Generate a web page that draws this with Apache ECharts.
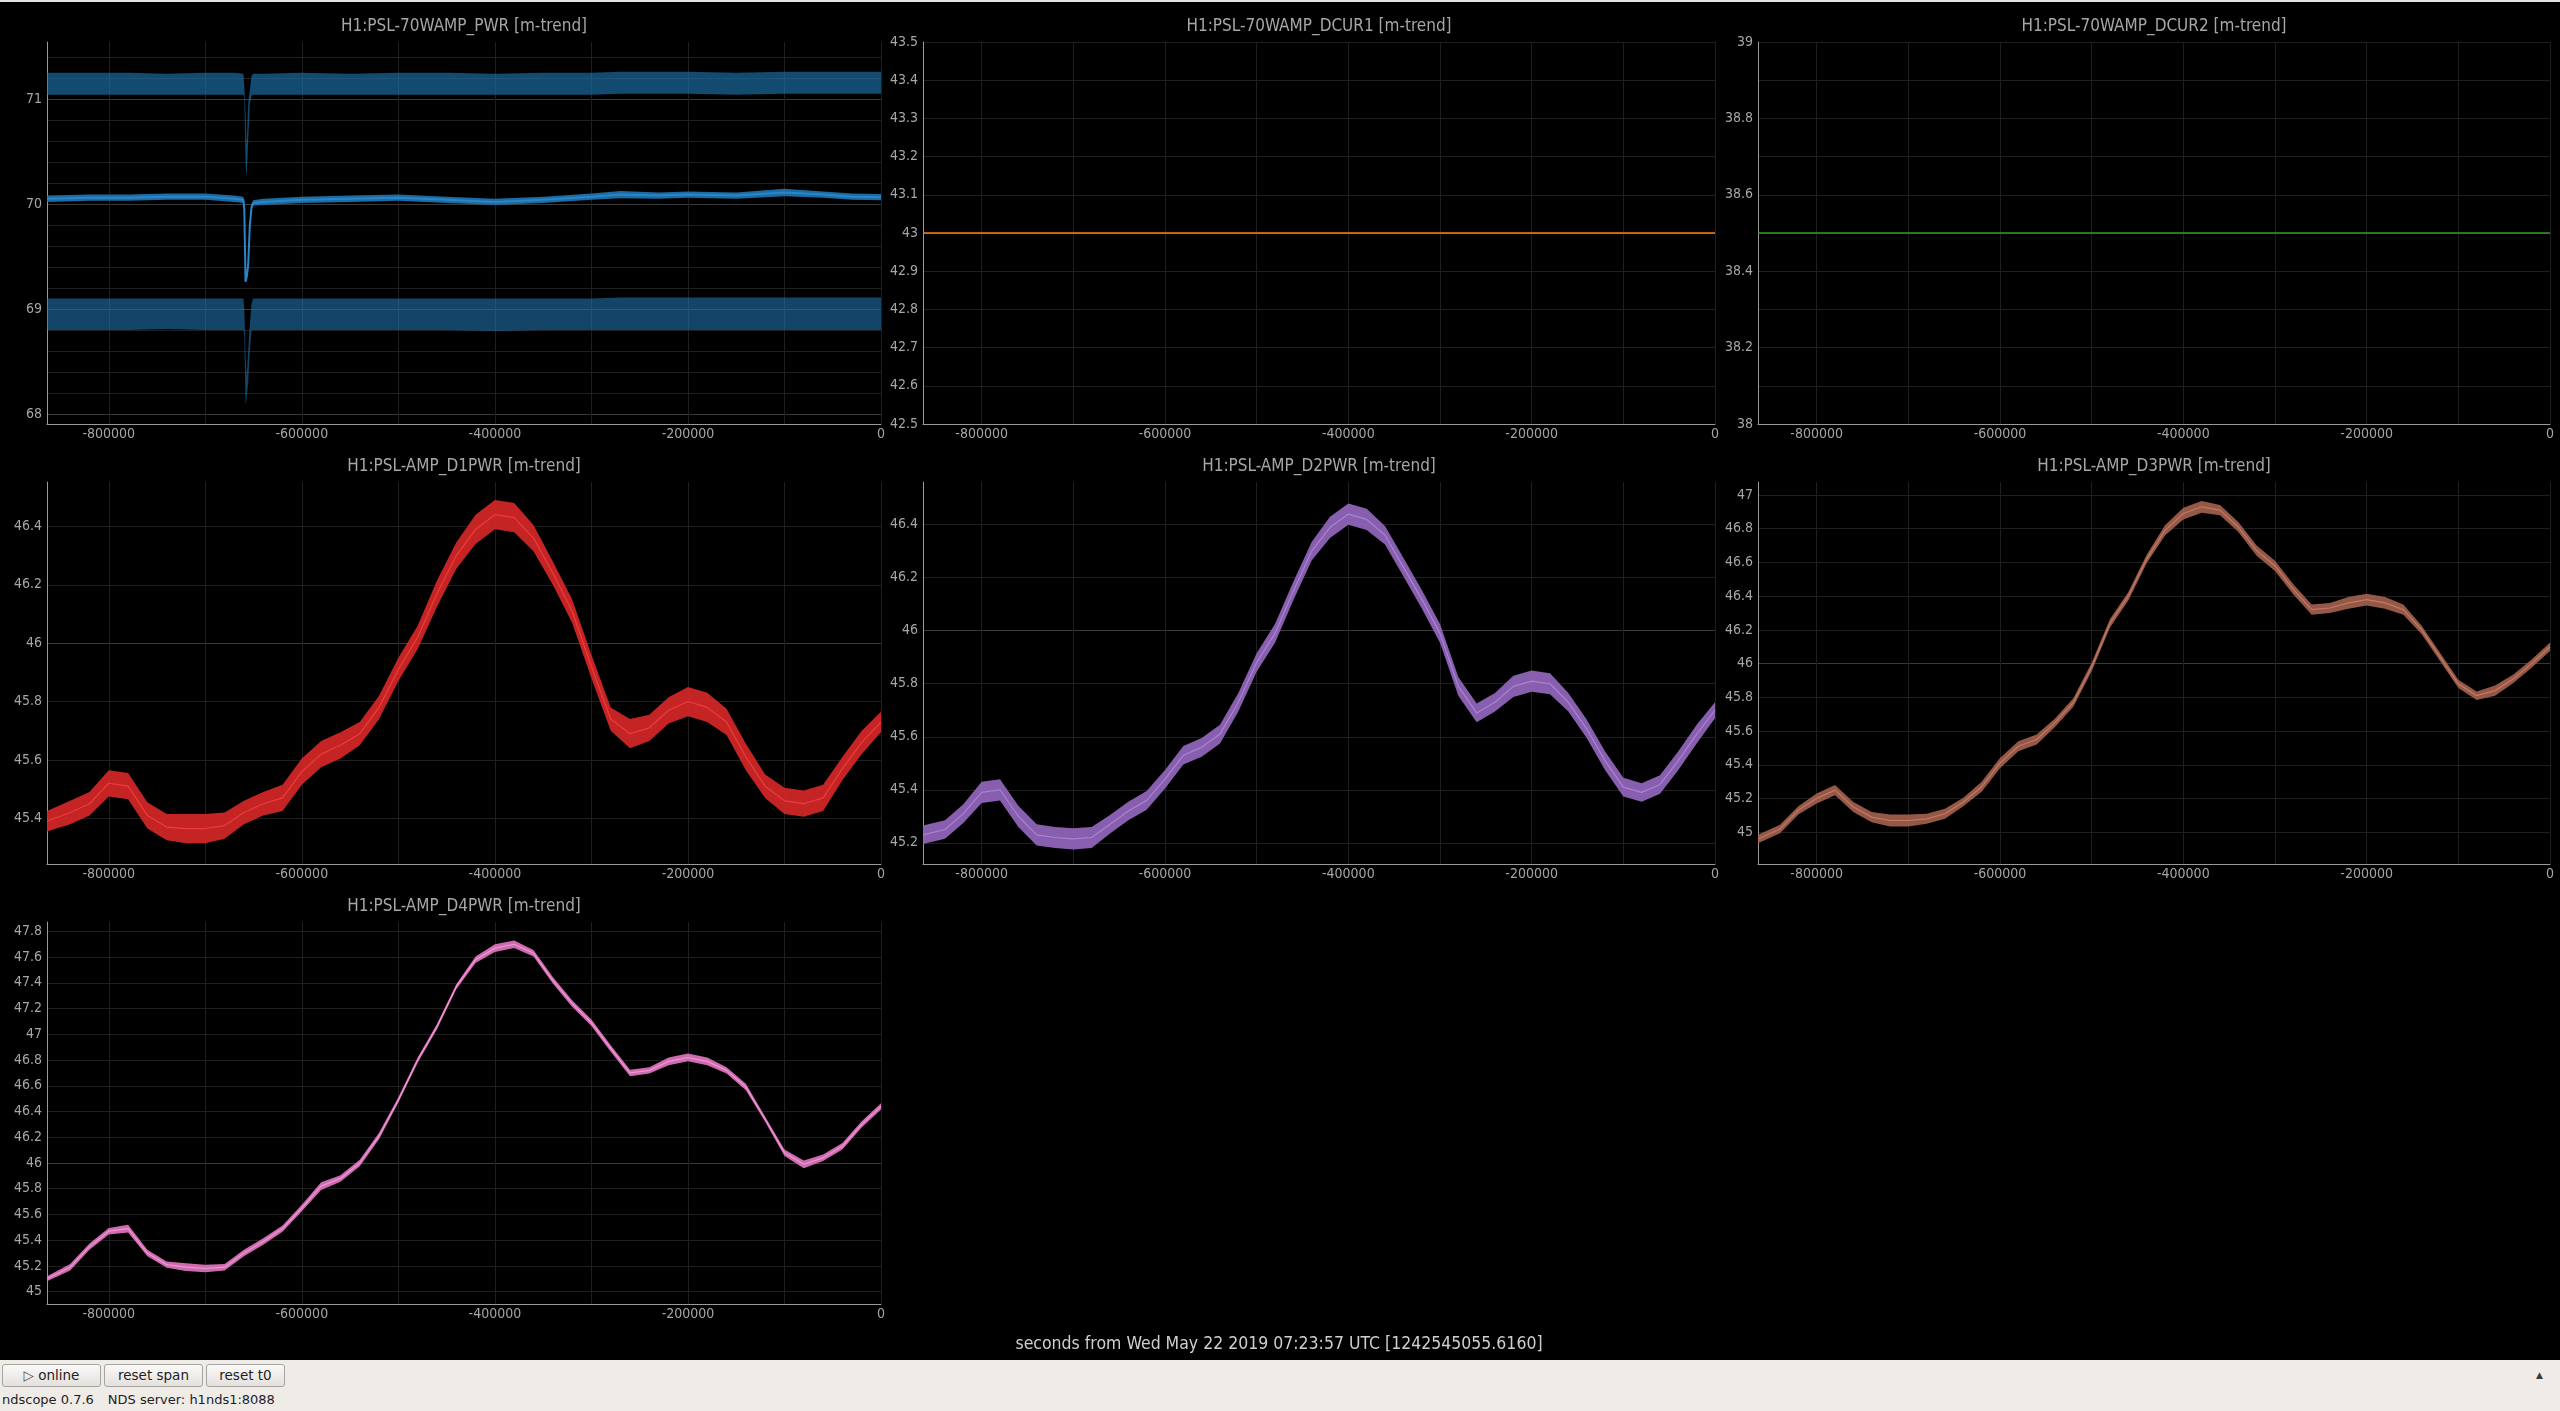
<!DOCTYPE html>
<html>
<head>
<meta charset="utf-8">
<script src="https://cdn.jsdelivr.net/npm/echarts@6.0.0/dist/echarts.min.js"></script>
<style>
html,body{margin:0;padding:0;background:#000;width:2560px;height:1411px;overflow:hidden;}
#chart{position:absolute;left:0;top:0;width:2560px;height:1360px;}
#topline{position:absolute;left:0;top:0;width:2560px;height:2px;background:#e4e4e4;z-index:5;}
#bar{position:absolute;left:0;top:1360px;width:2560px;height:51px;background:#efebe7;font-family:"DejaVu Sans",sans-serif;color:#1e1e1e;}
.btn{position:absolute;top:4px;height:23px;border:1px solid #a8a4a0;border-radius:3px;background:linear-gradient(#fbfaf9,#e3e0dd);font-size:13.5px;line-height:21px;text-align:center;box-sizing:border-box;}
#status{position:absolute;left:2px;top:32px;font-size:13px;white-space:nowrap;}
#arrow{position:absolute;left:2536px;top:10px;font-size:9px;color:#3a3a3a;}
</style>
</head>
<body>
<div id="topline"></div>
<div id="chart"></div>
<div id="bar">
  <div class="btn" style="left:2px;width:99px;"><span style="color:#555">&#9655;</span> online</div>
  <div class="btn" style="left:104px;width:99px;">reset span</div>
  <div class="btn" style="left:206px;width:79px;">reset t0</div>
  <div id="status">ndscope 0.7.6<span style="margin-left:14px">NDS server: h1nds1:8088</span></div>
  <div id="arrow">&#9650;</div>
</div>
<script>
// ---------------- data ----------------
const xLabelValues = [-800000, -600000, -400000, -200000, 0];
const xGridValues = [-800000, -700000, -600000, -500000, -400000, -300000, -200000, -100000, 0];

// H1:PSL-70WAMP_PWR  (min / mean / max minute trends)
const p1X = [-864000, -820000, -780000, -740000, -700000, -670000, -660500, -659600, -658300, -657200, -655600, -653900, -652100, -650500, -640000, -600000, -550000, -500000, -450000, -400000, -350000, -300000, -270000, -230000, -200000, -150000, -100000, -60000, -30000, 0];
const p1MaxHi = [71.25, 71.25, 71.25, 71.24, 71.25, 71.25, 71.24, 71.12, 70.85, 70.55, 70.95, 71.08, 71.22, 71.24, 71.24, 71.25, 71.24, 71.25, 71.25, 71.24, 71.25, 71.25, 71.26, 71.26, 71.26, 71.25, 71.26, 71.26, 71.26, 71.26];
const p1MaxLo = [71.04, 71.04, 71.04, 71.04, 71.04, 71.04, 71.04, 71.02, 70.40, 70.25, 70.60, 70.95, 71.03, 71.04, 71.04, 71.04, 71.04, 71.04, 71.04, 71.04, 71.04, 71.04, 71.05, 71.05, 71.05, 71.04, 71.05, 71.05, 71.05, 71.05];
const p1Mean = [70.05, 70.06, 70.06, 70.07, 70.07, 70.05, 70.04, 69.95, 69.26, 69.30, 69.42, 69.79, 69.97, 70.01, 70.02, 70.04, 70.05, 70.06, 70.04, 70.02, 70.04, 70.07, 70.09, 70.08, 70.09, 70.08, 70.11, 70.09, 70.07, 70.065];
const p1MeanHalf = [0.03, 0.03, 0.03, 0.03, 0.03, 0.03, 0.03, 0.03, 0.012, 0.02, 0.02, 0.02, 0.02, 0.025, 0.03, 0.03, 0.03, 0.03, 0.03, 0.03, 0.03, 0.03, 0.035, 0.03, 0.03, 0.03, 0.035, 0.03, 0.03, 0.03];
const p1MinHi = [69.10, 69.10, 69.10, 69.10, 69.10, 69.10, 69.10, 69.00, 68.55, 68.35, 68.60, 68.85, 69.05, 69.10, 69.10, 69.10, 69.10, 69.10, 69.10, 69.10, 69.10, 69.10, 69.11, 69.11, 69.11, 69.11, 69.11, 69.11, 69.11, 69.11];
const p1MinLo = [68.80, 68.80, 68.80, 68.81, 68.80, 68.80, 68.80, 68.75, 68.09, 68.15, 68.30, 68.60, 68.80, 68.80, 68.80, 68.80, 68.80, 68.80, 68.80, 68.79, 68.80, 68.80, 68.80, 68.80, 68.80, 68.80, 68.80, 68.80, 68.80, 68.80];
const p1YLabels = [68, 69, 70, 71];
const p1YGrid = [68, 68.2, 68.4, 68.6, 68.8, 69, 69.2, 69.4, 69.6, 69.8, 70, 70.2, 70.4, 70.6, 70.8, 71, 71.2, 71.4];

// H1:PSL-70WAMP_DCUR1 / DCUR2
const flatX = [-864000, -432000, 0];
const dcur1 = [43.0, 43.0, 43.0];
const dcur2 = [38.5, 38.5, 38.5];
const p2YLabels = [42.5, 42.6, 42.7, 42.8, 42.9, 43, 43.1, 43.2, 43.3, 43.4, 43.5];
const p3YLabels = [38, 38.2, 38.4, 38.6, 38.8, 39];
const p3YGrid = [38, 38.1, 38.2, 38.3, 38.4, 38.5, 38.6, 38.7, 38.8, 38.9, 39];

// H1:PSL-AMP_D1PWR .. D4PWR (mean and half of min-max range)
const dX = [-864000, -840000, -820000, -800000, -780000, -760000, -740000, -720000, -700000, -680000, -660000, -640000, -620000, -600000, -580000, -560000, -540000, -520000, -500000, -480000, -460000, -440000, -420000, -400000, -380000, -360000, -340000, -320000, -300000, -280000, -260000, -240000, -220000, -200000, -180000, -160000, -140000, -120000, -100000, -80000, -60000, -40000, -20000, 0];
const d1Mean = [45.39, 45.42, 45.45, 45.52, 45.51, 45.41, 45.37, 45.365, 45.365, 45.375, 45.42, 45.45, 45.47, 45.56, 45.62, 45.65, 45.69, 45.78, 45.91, 46.02, 46.17, 46.30, 46.39, 46.44, 46.43, 46.36, 46.24, 46.11, 45.92, 45.74, 45.69, 45.71, 45.77, 45.80, 45.78, 45.73, 45.61, 45.51, 45.46, 45.45, 45.47, 45.57, 45.66, 45.73];
const d1Half = [0.035, 0.04, 0.04, 0.045, 0.045, 0.045, 0.045, 0.05, 0.05, 0.045, 0.04, 0.04, 0.045, 0.045, 0.045, 0.045, 0.04, 0.04, 0.04, 0.04, 0.045, 0.045, 0.05, 0.05, 0.05, 0.045, 0.04, 0.04, 0.04, 0.04, 0.05, 0.045, 0.045, 0.05, 0.05, 0.045, 0.045, 0.04, 0.045, 0.045, 0.045, 0.04, 0.04, 0.035];
const d2Mean = [45.23, 45.25, 45.31, 45.39, 45.40, 45.30, 45.23, 45.22, 45.215, 45.22, 45.27, 45.32, 45.36, 45.44, 45.53, 45.56, 45.61, 45.73, 45.88, 45.99, 46.15, 46.30, 46.39, 46.44, 46.42, 46.36, 46.24, 46.12, 45.99, 45.79, 45.69, 45.73, 45.79, 45.81, 45.80, 45.73, 45.63, 45.51, 45.41, 45.39, 45.42, 45.51, 45.61, 45.70];
const d2Half = [0.035, 0.035, 0.035, 0.04, 0.04, 0.04, 0.04, 0.04, 0.04, 0.04, 0.035, 0.035, 0.035, 0.035, 0.035, 0.035, 0.035, 0.035, 0.035, 0.035, 0.035, 0.035, 0.04, 0.04, 0.04, 0.035, 0.035, 0.035, 0.035, 0.035, 0.035, 0.035, 0.04, 0.04, 0.04, 0.035, 0.035, 0.035, 0.035, 0.035, 0.035, 0.035, 0.035, 0.03];
const d3Mean = [44.96, 45.02, 45.13, 45.20, 45.25, 45.15, 45.09, 45.07, 45.07, 45.08, 45.11, 45.18, 45.27, 45.41, 45.51, 45.55, 45.65, 45.77, 45.98, 46.24, 46.40, 46.62, 46.79, 46.89, 46.93, 46.91, 46.81, 46.67, 46.58, 46.44, 46.32, 46.33, 46.36, 46.38, 46.36, 46.32, 46.20, 46.04, 45.88, 45.81, 45.84, 45.91, 46.00, 46.10];
const d3Half = [0.025, 0.025, 0.025, 0.03, 0.03, 0.03, 0.03, 0.035, 0.035, 0.03, 0.03, 0.025, 0.03, 0.03, 0.03, 0.03, 0.025, 0.025, 0.025, 0.025, 0.025, 0.025, 0.03, 0.035, 0.035, 0.03, 0.03, 0.03, 0.03, 0.03, 0.03, 0.03, 0.035, 0.035, 0.035, 0.03, 0.025, 0.025, 0.025, 0.025, 0.03, 0.025, 0.025, 0.025];
const d4Mean = [45.10, 45.19, 45.35, 45.47, 45.49, 45.30, 45.21, 45.19, 45.18, 45.19, 45.30, 45.39, 45.49, 45.65, 45.82, 45.88, 46.00, 46.21, 46.49, 46.80, 47.06, 47.37, 47.58, 47.67, 47.70, 47.63, 47.42, 47.24, 47.09, 46.89, 46.70, 46.72, 46.79, 46.82, 46.79, 46.72, 46.59, 46.34, 46.08, 45.99, 46.04, 46.13, 46.30, 46.44];
const d4Half = [0.02, 0.025, 0.025, 0.025, 0.03, 0.025, 0.025, 0.03, 0.03, 0.025, 0.025, 0.025, 0.025, 0.025, 0.03, 0.025, 0.025, 0.025, 0.02, 0.02, 0.02, 0.02, 0.025, 0.03, 0.03, 0.025, 0.025, 0.025, 0.025, 0.025, 0.025, 0.025, 0.03, 0.03, 0.03, 0.025, 0.025, 0.02, 0.025, 0.03, 0.025, 0.025, 0.025, 0.025];
const d1YLabels = [45.4, 45.6, 45.8, 46, 46.2, 46.4];
const d2YLabels = [45.2, 45.4, 45.6, 45.8, 46, 46.2, 46.4];
const d3YLabels = [45, 45.2, 45.4, 45.6, 45.8, 46, 46.2, 46.4, 46.6, 46.8, 47];
const d4YLabels = [45, 45.2, 45.4, 45.6, 45.8, 46, 46.2, 46.4, 46.6, 46.8, 47, 47.2, 47.4, 47.6, 47.8];

const footerText = 'seconds from Wed May 22 2019 07:23:57 UTC [1242545055.6160]';

// ---------------- layout & style ----------------
const FONT = '"DejaVu Sans Condensed","DejaVu Sans",sans-serif';
const TXT = '#a6a6a6';
const AXIS = '#9a9a9a';
const GRID_DIM = '#1f1f1f';
const GRID_MAJ = '#3a3a3a';
const X_MIN = -864000, X_MAX = 0;

function lower(m, h) { return m.map((v, k) => v - h[k]); }
function upper(m, h) { return m.map((v, k) => v + h[k]); }

const panels = [
  { title: 'H1:PSL-70WAMP_PWR [m-trend]', left: 47, top: 42, width: 834, height: 382,
    yMin: 67.905, yMax: 71.543, yLabels: p1YLabels, yGrid: p1YGrid, yMajor: [68, 69, 70, 71],
    bands: [
      { x: p1X, lo: p1MaxLo, hi: p1MaxHi, color: '#1f77b4', opacity: 0.62 },
      { x: p1X, lo: lower(p1Mean, p1MeanHalf), hi: upper(p1Mean, p1MeanHalf), color: '#1f77b4', opacity: 0.9 },
      { x: p1X, lo: p1MinLo, hi: p1MinHi, color: '#1f77b4', opacity: 0.58 }
    ],
    lines: [{ x: p1X, y: p1Mean, color: '#2a86c8', width: 2 }] },
  { title: 'H1:PSL-70WAMP_DCUR1 [m-trend]', left: 923, top: 42, width: 792, height: 382,
    yMin: 42.5, yMax: 43.5, yLabels: p2YLabels, yGrid: p2YLabels, yMajor: [43],
    bands: [], lines: [{ x: flatX, y: dcur1, color: '#ff7f0e', width: 1.6 }] },
  { title: 'H1:PSL-70WAMP_DCUR2 [m-trend]', left: 1758, top: 42, width: 792, height: 382,
    yMin: 38, yMax: 39, yLabels: p3YLabels, yGrid: p3YGrid, yMajor: [],
    bands: [], lines: [{ x: flatX, y: dcur2, color: '#2ca02c', width: 1.6 }] },
  { title: 'H1:PSL-AMP_D1PWR [m-trend]', left: 47, top: 482, width: 834, height: 382,
    yMin: 45.2435, yMax: 46.552, yLabels: d1YLabels, yGrid: d1YLabels, yMajor: [46],
    bands: [{ x: dX, lo: lower(d1Mean, d1Half), hi: upper(d1Mean, d1Half), color: '#d62728', opacity: 0.92 }],
    lines: [{ x: dX, y: d1Mean, color: '#ee3b3b', width: 1.2 }] },
  { title: 'H1:PSL-AMP_D2PWR [m-trend]', left: 923, top: 482, width: 792, height: 382,
    yMin: 45.12, yMax: 46.561, yLabels: d2YLabels, yGrid: d2YLabels, yMajor: [46],
    bands: [{ x: dX, lo: lower(d2Mean, d2Half), hi: upper(d2Mean, d2Half), color: '#9467bd', opacity: 0.92 }],
    lines: [{ x: dX, y: d2Mean, color: '#a983d4', width: 1.2 }] },
  { title: 'H1:PSL-AMP_D3PWR [m-trend]', left: 1758, top: 482, width: 792, height: 382,
    yMin: 44.812, yMax: 47.077, yLabels: d3YLabels, yGrid: d3YLabels, yMajor: [46],
    bands: [{ x: dX, lo: lower(d3Mean, d3Half), hi: upper(d3Mean, d3Half), color: '#a5624f', opacity: 0.9 }],
    lines: [{ x: dX, y: d3Mean, color: '#c07a66', width: 1.2 }] },
  { title: 'H1:PSL-AMP_D4PWR [m-trend]', left: 47, top: 922, width: 834, height: 382,
    yMin: 44.904, yMax: 47.873, yLabels: d4YLabels, yGrid: d4YLabels, yMajor: [46],
    bands: [{ x: dX, lo: lower(d4Mean, d4Half), hi: upper(d4Mean, d4Half), color: '#e377c2', opacity: 0.9 }],
    lines: [{ x: dX, y: d4Mean, color: '#f095d6', width: 1.2 }] }
];

const grids = [], xAxes = [], yAxes = [], series = [], graphics = [];

panels.forEach((p, i) => {
  grids.push({ left: p.left, top: p.top, width: p.width, height: p.height, containLabel: false });
  xAxes.push({
    gridIndex: i, type: 'value', min: X_MIN, max: X_MAX,
    axisLine: { show: true, onZero: false, lineStyle: { color: AXIS, width: 1 } },
    axisTick: { show: false, customValues: xGridValues },
    axisLabel: { show: true, customValues: xLabelValues, color: TXT, fontFamily: FONT, fontSize: 14, margin: 3,
      formatter: v => String(v) },
    splitLine: { show: true, lineStyle: { color: GRID_DIM, width: 1 } }
  });
  yAxes.push({
    gridIndex: i, type: 'value', min: p.yMin, max: p.yMax, position: 'left',
    axisLine: { show: true, onZero: false, lineStyle: { color: AXIS, width: 1 } },
    axisTick: { show: false, customValues: p.yGrid },
    axisLabel: { show: true, customValues: p.yLabels, color: TXT, fontFamily: FONT, fontSize: 14, margin: 5,
      formatter: v => String(v) },
    splitLine: { show: true, lineStyle: { color: GRID_DIM, width: 1 } }
  });
  yAxes.push({
    gridIndex: i, type: 'value', min: p.yMin, max: p.yMax, position: 'right',
    axisLine: { show: false, onZero: false },
    axisTick: { show: false, customValues: p.yMajor.length ? p.yMajor : [p.yMin] },
    axisLabel: { show: false },
    splitLine: { show: p.yMajor.length > 0, lineStyle: { color: GRID_MAJ, width: 1 } }
  });
  const yIdx = 2 * i;
  p.bands.forEach(b => {
    const data = b.x.map((x, k) => [x, b.lo[k], b.hi[k]]);
    series.push({
      type: 'custom', coordinateSystem: 'cartesian2d', xAxisIndex: i, yAxisIndex: yIdx,
      data: data, encode: { x: 0, y: [1, 2] }, silent: true, animation: false, z: 2,
      renderItem: function (params, api) {
        if (params.dataIndex !== 0) return null;
        const pts = [];
        for (let k = 0; k < data.length; k++) pts.push(api.coord([data[k][0], data[k][2]]));
        for (let k = data.length - 1; k >= 0; k--) pts.push(api.coord([data[k][0], data[k][1]]));
        return { type: 'polygon', shape: { points: pts }, style: { fill: b.color, opacity: b.opacity } };
      }
    });
  });
  p.lines.forEach(l => {
    series.push({
      type: 'line', xAxisIndex: i, yAxisIndex: yIdx,
      data: l.x.map((x, k) => [x, l.y[k]]),
      symbol: 'none', showSymbol: false, silent: true, animation: false, z: 3,
      lineStyle: { color: l.color, width: l.width }
    });
  });
  graphics.push({
    type: 'text', x: p.left + p.width / 2, y: p.top - 15, silent: true,
    style: { text: p.title, fill: TXT, font: '17px ' + FONT, align: 'center', verticalAlign: 'middle',
      textAlign: 'center', textVerticalAlign: 'middle' }
  });
});

graphics.push({
  type: 'text', x: 1279, y: 1344, silent: true,
  style: { text: footerText, fill: '#cfcfcf', font: '17.5px ' + FONT, align: 'center', verticalAlign: 'middle',
    textAlign: 'center', textVerticalAlign: 'middle' }
});

const chart = echarts.init(document.getElementById('chart'), null, { renderer: 'canvas' });
chart.setOption({
  backgroundColor: '#000000',
  animation: false,
  grid: grids,
  xAxis: xAxes,
  yAxis: yAxes,
  series: series,
  graphic: { elements: graphics }
});
</script>
</body>
</html>
